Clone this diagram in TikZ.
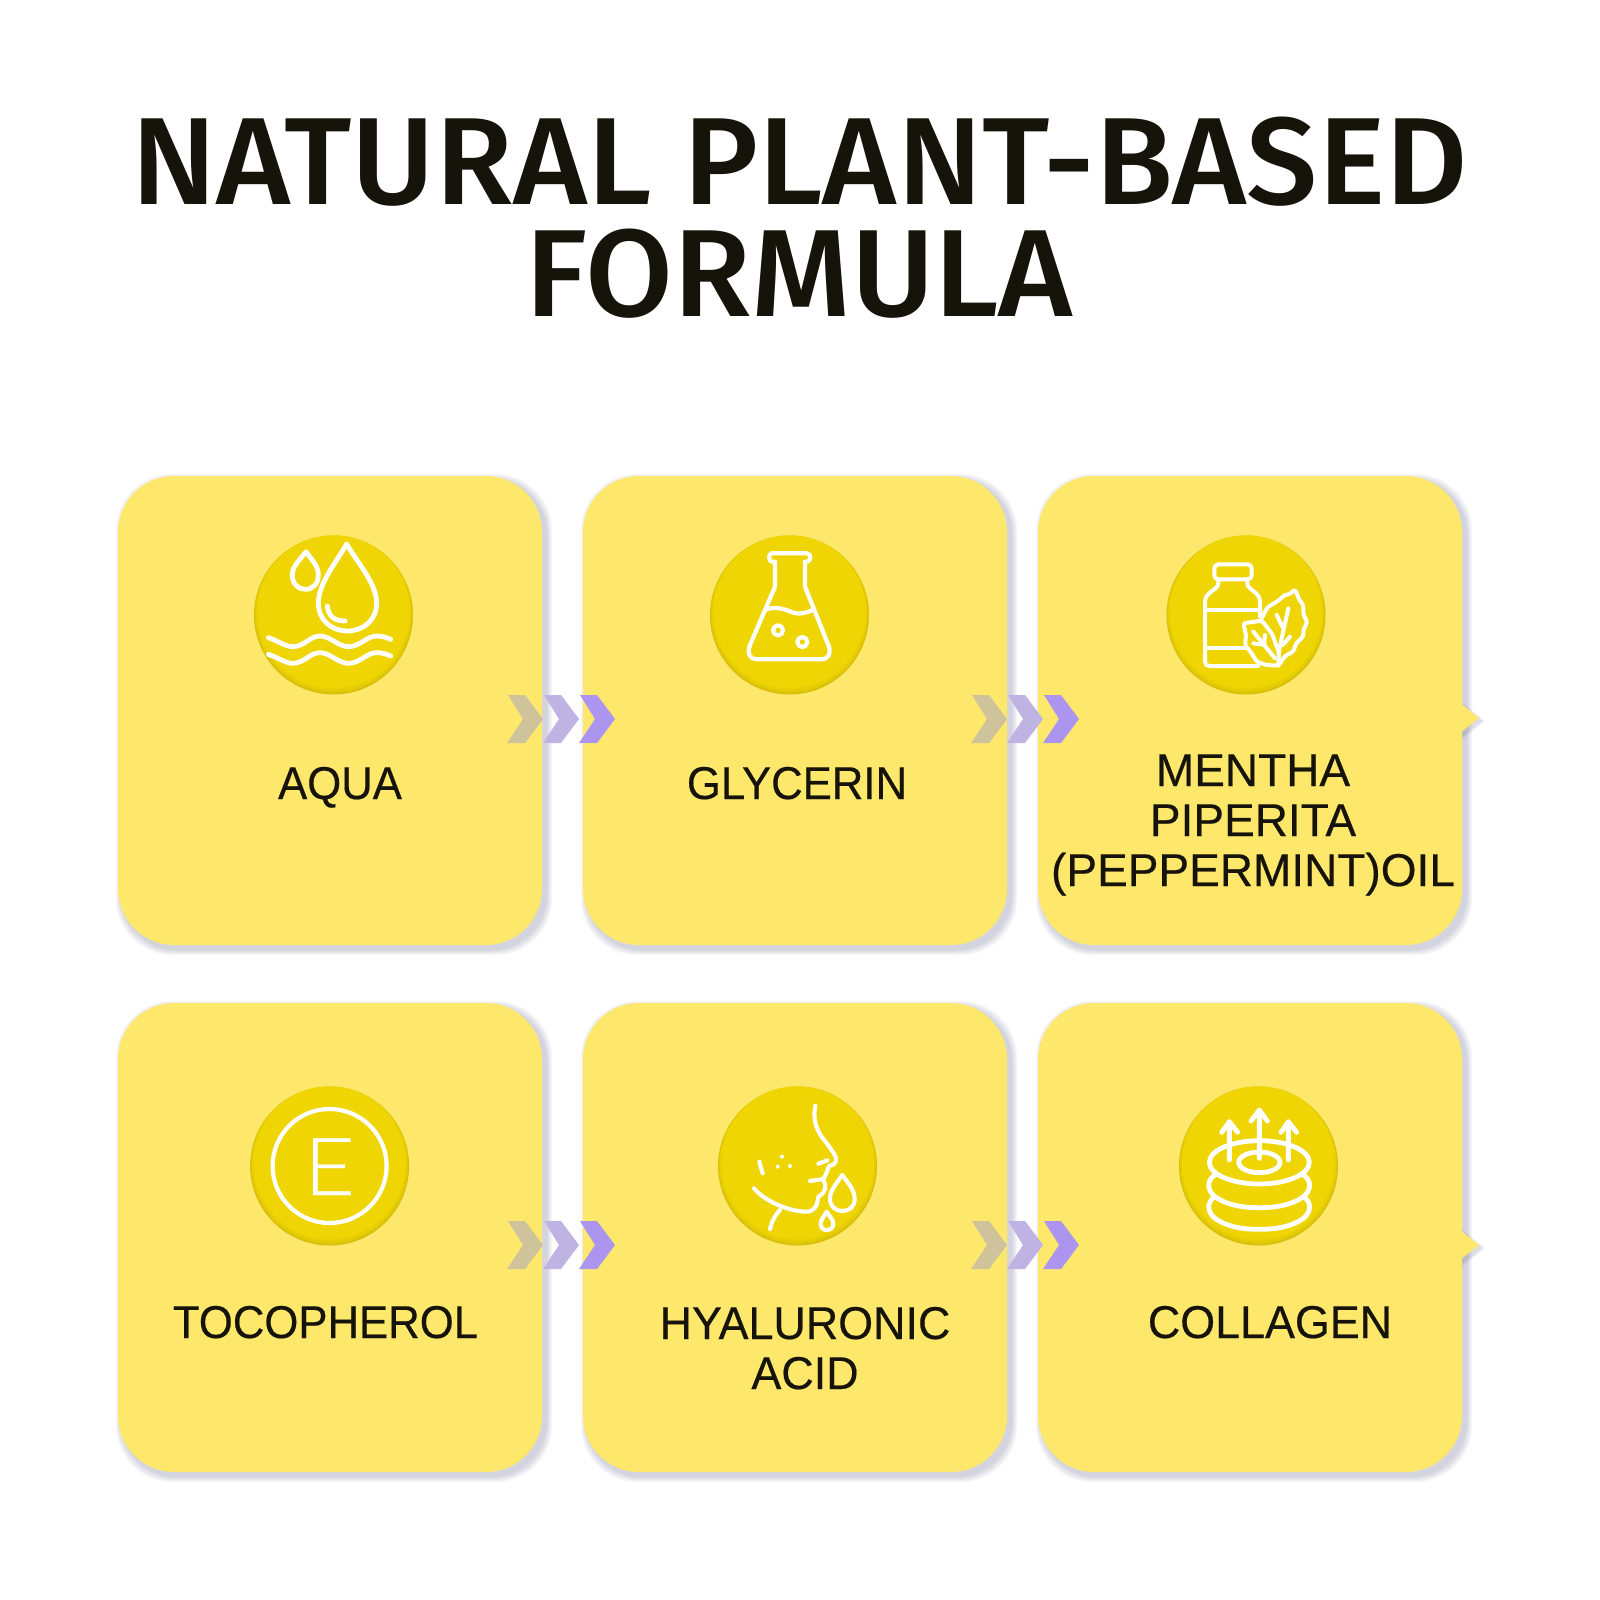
\documentclass[tikz,border=0pt]{standalone}
\usepackage{fontspec}
\setmainfont{Liberation Sans}
\newfontfamily\titlefont[UprightFont=* Medium,FakeStretch=1.026]{Fira Sans}
\newfontfamily\labA[FakeBold=0.4,FakeStretch=0.95]{Liberation Sans}
\newfontfamily\labB[FakeBold=0.4,FakeStretch=0.975]{Liberation Sans}
\newfontfamily\labC[FakeBold=0.4]{Liberation Sans}
\newfontfamily\efont[UprightFont=* Light,FakeStretch=1.1,FakeBold=0.4]{Lato}
\definecolor{cardc}{HTML}{FEE86C}
\definecolor{circc}{HTML}{EED503}
\definecolor{circd}{HTML}{D8BE0A}
\definecolor{inkc}{HTML}{16140A}
\definecolor{shadc}{HTML}{66668C}
\definecolor{chA}{HTML}{CFC39B}
\definecolor{chB}{HTML}{BFB3E3}
\definecolor{chC}{HTML}{AC95EF}
\tikzset{
 card/.style={fill=cardc,rounded corners=56pt,minimum width=424pt,minimum height=469pt,inner sep=0pt},
 lab/.style={text=inkc,align=center,inner sep=0pt,anchor=base},
 ttl/.style={text=inkc,font=\titlefont\fontsize{124}{112}\selectfont,align=center,inner sep=0pt,anchor=base},
 ico/.style={draw=white,line width=4.8pt,line cap=round,line join=round},
 izoom/.style={shift={#1},scale=1/3}
}
\newcommand{\lfont}[1]{#1\fontsize{46}{50}\selectfont}
\newcommand{\cardshadow}[2]{%
 \foreach \r in {1,...,6}{%
  \fill[shadc,opacity=.05,rounded corners=56pt] ({#1-212-\r+4},{#2-234.5-\r+4}) rectangle ({#1+212+\r+4},{#2+234.5+\r+4});
 }}
\newcommand{\disc}[3]{%
 \fill[circd] (#1,#2) circle[radius=79.5];
 \foreach \k/\o in {1/.4,2/.4,3/.5,4/1}{%
  \fill[circc,opacity=\o] ({#1},{#2-\k*0.8}) circle[radius={79.5-\k*0.8}];
 }
 \node[circle,minimum size=159pt,inner sep=0pt] (#3) at (#1,#2) {};}
\newcommand{\chev}[4]{\fill[#4] ({#1+#3+1},{#2-24}) -- ({#1+#3+18},{#2-24}) -- ({#1+#3+36},{#2}) -- ({#1+#3+18},{#2+24}) -- ({#1+#3},{#2+24}) -- ({#1+#3+16},{#2}) -- cycle;}
\newcommand{\chevrons}[2]{\chev{#1}{#2}{0}{chA}\chev{#1}{#2}{36}{chB}\chev{#1}{#2}{72}{chC}}
\newcommand{\tabtip}[1]{%
 \foreach \r in {1,...,4}{\fill[shadc,opacity=.06] (1462,{#1-15-\r+3}) -- ({1479+\r+2},{#1+3}) -- (1462,{#1+15+\r+3}) -- cycle;}
 \fill[cardc] (1460,{#1-15}) -- (1479,#1) -- (1460,{#1+15}) -- cycle;}
\begin{document}
\begin{tikzpicture}[x=1pt,y=-1pt]
\useasboundingbox (0,0) rectangle (1600,1600);
\fill[white] (0,0) rectangle (1600,1600);
\node[ttl] (title) at (799.5,316) {NATURAL PLANT-BASED\\FORMULA};
% shadows and cards
\foreach \cx in {330,795,1250}{\foreach \cy in {710.5,1237.5}{\cardshadow{\cx}{\cy}}}
\tabtip{718}\tabtip{1245}
\node[card] (c1) at (330,710.5) {};
\node[card] (c2) at (795,710.5) {};
\node[card] (c3) at (1250,710.5) {};
\node[card] (c4) at (330,1237.5) {};
\node[card] (c5) at (795,1237.5) {};
\node[card] (c6) at (1250,1237.5) {};
\chevrons{507}{719}\chevrons{971}{719}\chevrons{507}{1245}\chevrons{971}{1245}
% discs
\disc{333.5}{615}{d1}\disc{789.5}{615}{d2}\disc{1246}{615}{d3}
\disc{329.6}{1166}{d4}\disc{797.5}{1166}{d5}\disc{1258.5}{1166}{d6}
% labels
\node[lab,font=\lfont\labA] (l1) at (340,799) {AQUA};
\node[lab,font=\lfont\labA] (l2) at (797,799) {GLYCERIN};
\node[lab,font=\lfont\labC] (l3) at (1253,886) {MENTHA\\PIPERITA\\(PEPPERMINT)OIL};
\node[lab,font=\lfont\labA] (l4) at (325.5,1338) {TOCOPHEROL};
\node[lab,font=\lfont\labB] (l5) at (805,1389) {HYALURONIC\\ACID};
\node[lab,font=\lfont\labB] (l6) at (1270,1338) {COLLAGEN};
% icon 1
\begin{scope}[izoom={(230,520)}]
\draw[ico] (228,95) .. controls (205,125) and (187,140) .. (187,165) .. controls (187,192) and (205,208) .. (226,208) .. controls (248,208) and (265,192) .. (265,165) .. controls (265,140) and (250,125) .. (228,95) -- cycle;
\draw[ico] (350,72) .. controls (320,125) and (265,190) .. (265,250) .. controls (265,300) and (305,333) .. (352,333) .. controls (400,333) and (440,300) .. (440,250) .. controls (440,190) and (380,125) .. (350,72) -- cycle;
\draw[ico] (292,258) .. controls (295,290) and (315,303) .. (345,303);
\foreach \s in {0,50}{
\draw[ico,shift={(0,\s)}] (115,353) .. controls (150,365) and (165,380) .. (190,380) .. controls (225,378) and (240,348) .. (270,348) .. controls (300,348) and (325,380) .. (355,380) .. controls (390,380) and (410,348) .. (440,348) .. controls (455,348) and (470,352) .. (482,358);}
\end{scope}
% icon 2
\begin{scope}[izoom={(690,520)}]
\tikzset{ico/.append style={line width=4.2pt}}
\draw[ico] (255,200) -- (255,125) -- (245,125) .. controls (235,122) and (235,102) .. (245,100) -- (352,100) .. controls (364,102) and (364,122) .. (352,125) -- (345,125) -- (345,200) -- (415,375) .. controls (425,400) and (415,418) .. (395,418) -- (200,418) .. controls (180,418) and (170,400) .. (180,375) -- cycle;
\draw[ico] (228,268) .. controls (260,258) and (285,268) .. (310,278) .. controls (330,285) and (350,278) .. (372,268);
\draw[ico] (264,331) circle[radius=15] (337,366) circle[radius=15];
\end{scope}
% icon 3
\begin{scope}[izoom={(1150,520)}]
\tikzset{ico/.append style={line width=4pt}}
\draw[ico,rounded corners=4pt] (193,133) rectangle (305,178);
\draw[ico] (205,180) -- (205,190) .. controls (205,210) and (165,215) .. (165,245) -- (165,425) .. controls (165,433) and (170,438) .. (178,438) -- (325,438);
\draw[ico] (292,180) -- (292,190) .. controls (292,210) and (330,215) .. (330,245) -- (330,290);
\draw[ico] (165,270) -- (330,270) (165,385) -- (285,385);
\draw[ico,rounded corners=2.5pt] (335,295) -- (352,262) -- (372,250) -- (388,240) -- (402,226) -- (420,222) -- (435,208) -- (448,240) -- (460,255) -- (460,285) -- (472,305) -- (460,330) -- (460,350) -- (438,370) -- (430,395) -- (405,408) -- (385,437);
\draw[ico,rounded corners=2.5pt] (280,310) -- (335,302) -- (350,320) -- (368,345) -- (378,375) -- (387,395) -- (385,437) -- (350,435) -- (320,425) -- (305,400) -- (285,375) -- (288,345) -- cycle;
\draw[ico] (385,400) -- (415,265) (380,285) -- (397,320) (398,375) -- (420,350);
\draw[ico] (310,335) -- (375,415) (310,370) -- (345,375) (345,345) -- (342,375);
\end{scope}
% icon 4
\draw[ico,line width=4.2pt] (d4.center) circle[radius=57];
\node[text=white,font=\efont\fontsize{80}{80}\selectfont,inner sep=0pt,anchor=base] (e) at (329.5,1195) {E};
% icon 5
\begin{scope}[izoom={(710,1075)}]
\tikzset{ico/.append style={line width=4.1pt}}
\draw[ico] (316,92) .. controls (308,130) and (318,160) .. (335,185) .. controls (350,205) and (375,235) .. (378,250) .. controls (380,262) and (370,272) .. (358,272) .. controls (350,285) and (352,295) .. (340,312) -- (300,318);
\draw[ico] (340,315) .. controls (350,335) and (350,350) .. (325,365) .. controls (320,385) and (325,400) .. (295,410) .. controls (250,412) and (170,385) .. (132,340);
\draw[ico] (325,266) -- (352,256);
\draw[ico] (210,405) .. controls (195,420) and (185,440) .. (180,462);
\draw[ico] (148,260) -- (158,295);
\fill[white] (216,245) circle[radius=6] (203,275) circle[radius=6] (240,273) circle[radius=6];
\draw[ico] (397,300) .. controls (380,325) and (360,345) .. (360,372) .. controls (360,395) and (378,408) .. (397,408) .. controls (418,408) and (434,395) .. (434,372) .. controls (434,345) and (415,325) .. (397,300) -- cycle;
\draw[ico] (350,410) .. controls (342,425) and (332,433) .. (332,447) .. controls (332,458) and (340,465) .. (350,465) .. controls (360,465) and (370,458) .. (370,447) .. controls (370,433) and (358,425) .. (350,410) -- cycle;
\end{scope}
% icon 6
\begin{scope}[izoom={(1170,1075)}]
\draw[ico] (268,262) circle[x radius=150,y radius=65];
\draw[ico] (268,262) circle[x radius=62,y radius=31];
\foreach \s in {0,65}{
\draw[ico,shift={(0,\s)}] (135,300) .. controls (110,315) and (110,345) .. (135,365) .. controls (170,390) and (215,398) .. (268,398) .. controls (320,398) and (365,390) .. (400,365) .. controls (425,345) and (425,315) .. (400,300);}
\draw[ico] (178,255) -- (178,140) (155,172) -- (178,140) -- (203,172);
\draw[ico] (268,250) -- (268,105) (243,138) -- (268,105) -- (292,138);
\draw[ico] (355,255) -- (355,140) (333,172) -- (355,140) -- (380,172);
\end{scope}
\end{tikzpicture}
\end{document}
